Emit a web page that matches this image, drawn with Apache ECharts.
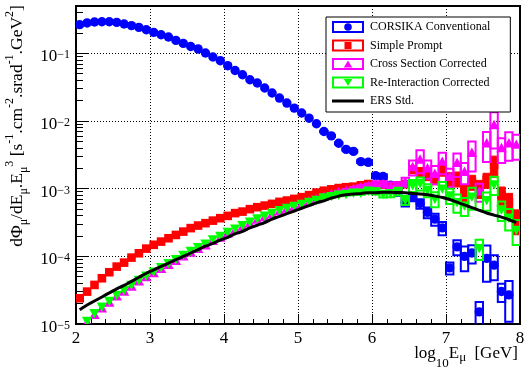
<!DOCTYPE html>
<html>
<head>
<meta charset="utf-8">
<script src="https://cdn.jsdelivr.net/npm/echarts@6/dist/echarts.min.js"></script>
<style>
html,body{margin:0;padding:0;background:#fff;}
#chart{width:524px;height:377px;}
</style>
</head>
<body>
<div id="chart"></div>
<script>
// ---- data (bin centres in log10 E [GeV], bin width 0.1) ----
const binWidth = 0.1;
const binCenters = [
  2.05,2.15,2.25,2.35,2.45,2.55,2.65,2.75,2.85,2.95,
  3.05,3.15,3.25,3.35,3.45,3.55,3.65,3.75,3.85,3.95,
  4.05,4.15,4.25,4.35,4.45,4.55,4.65,4.75,4.85,4.95,
  5.05,5.15,5.25,5.35,5.45,5.55,5.65,5.75,5.85,5.95,
  6.05,6.15,6.25,6.35,6.45,6.55,6.65,6.75,6.85,6.95,
  7.05,7.15,7.25,7.35,7.45,7.55,7.65,7.75,7.85,7.95
];
const conventional = [
  0.265,0.281,0.290,0.293,0.293,0.286,0.271,0.256,0.242,0.223,
  0.204,0.188,0.174,0.155,0.140,0.126,0.116,0.101,0.0881,0.0778,
  0.0656,0.0558,0.0482,0.0406,0.0364,0.0307,0.0259,0.0218,0.0184,0.0155,
  0.0131,0.0110,0.00910,0.00700,0.00603,0.00468,0.00380,0.00355,0.00251,0.00245,
  0.00155,0.00151,0.00112,0.000891,0.000631,0.000759,0.000603,0.000447,0.000355,0.000263,
  0.0000676,0.000138,0.000100,0.000112,0.0000151,0.0000933,0.0000741,0.0000302,0.0000269,null
];
const conventionalRelErr = [
  0,0,0,0,0,0,0,0,0,0, 0,0,0,0,0,0,0,0,0,0, 0,0,0,0,0,0,0,0,0,0,
  0,0,0,0.02,0.03,0.03,0.04,0.04,0.05,0.06,
  0.08,0.08,0.10,0.12,0.14,0.14,0.16,0.18,0.20,0.22,
  0.20,0.25,0.40,0.30,0.40,0.55,0.40,0.30,0.60,0
];
const simplePrompt = [
  2.40e-5,3.01e-5,3.78e-5,4.74e-5,5.82e-5,7.05e-5,8.07e-5,9.57e-5,1.11e-4,1.30e-4,
  1.48e-4,1.65e-4,1.85e-4,2.07e-4,2.32e-4,2.61e-4,2.85e-4,3.09e-4,3.37e-4,3.66e-4,
  3.96e-4,4.35e-4,4.58e-4,4.98e-4,5.32e-4,5.62e-4,5.96e-4,6.38e-4,6.67e-4,7.06e-4,
  7.48e-4,8.02e-4,8.75e-4,9.33e-4,9.77e-4,1.02e-3,1.05e-3,1.07e-3,1.12e-3,1.17e-3,
  1.10e-3,1.15e-3,1.05e-3,1.12e-3,1.17e-3,1.91e-3,1.78e-3,1.58e-3,1.41e-3,1.91e-3,
  1.41e-3,1.41e-3,8.71e-4,1.26e-3,1.02e-3,1.35e-3,2.24e-3,8.13e-4,6.31e-4,3.47e-4
];
const simplePromptRelErr = [
  0,0,0,0,0,0,0,0,0,0, 0,0,0,0,0,0,0,0,0,0, 0,0,0,0,0,0,0,0,0,0,
  0,0,0,0.03,0.03,0.04,0.04,0.05,0.05,0.06,
  0.07,0.08,0.09,0.10,0.12,0.13,0.15,0.17,0.19,0.20,
  0.22,0.25,0.28,0.25,0.30,0.25,0.35,0.30,0.35,0.40
];
const crossSectionCorrected = [
  null,1.05e-5,1.37e-5,1.71e-5,2.08e-5,2.56e-5,3.02e-5,3.59e-5,4.26e-5,4.92e-5,
  5.64e-5,6.56e-5,7.51e-5,8.61e-5,9.98e-5,1.14e-4,1.29e-4,1.46e-4,1.69e-4,1.90e-4,
  2.18e-4,2.45e-4,2.75e-4,3.10e-4,3.48e-4,3.83e-4,4.22e-4,4.65e-4,5.08e-4,5.50e-4,
  5.96e-4,6.45e-4,7.00e-4,7.70e-4,8.30e-4,8.90e-4,9.40e-4,1.00e-3,1.05e-3,1.10e-3,
  1.17e-3,1.17e-3,1.10e-3,1.10e-3,1.26e-3,2.09e-3,2.69e-3,2.00e-3,1.66e-3,2.51e-3,
  1.51e-3,2.40e-3,1.78e-3,3.39e-3,9.12e-4,4.68e-3,8.71e-3,3.98e-3,4.68e-3,4.47e-3
];
const crossSectionRelErr = [
  0,0,0,0,0,0,0,0,0,0, 0,0,0,0,0,0,0,0,0,0, 0,0,0,0,0,0,0,0,0,0,
  0,0,0,0.04,0.04,0.05,0.05,0.06,0.07,0.08,
  0.10,0.10,0.12,0.13,0.15,0.25,0.37,0.30,0.30,0.35,
  0.30,0.38,0.35,0.47,0.30,0.47,0.55,0.40,0.45,0.40
];
const reInteractionCorrected = [
  null,1.11e-5,1.44e-5,1.80e-5,2.19e-5,2.69e-5,3.18e-5,3.78e-5,4.48e-5,5.18e-5,
  5.94e-5,6.90e-5,7.91e-5,9.06e-5,1.05e-4,1.20e-4,1.36e-4,1.54e-4,1.78e-4,2.00e-4,
  2.29e-4,2.57e-4,2.88e-4,3.24e-4,3.63e-4,3.98e-4,4.37e-4,4.79e-4,5.19e-4,5.56e-4,
  5.96e-4,6.38e-4,6.82e-4,7.41e-4,7.76e-4,8.13e-4,8.32e-4,8.71e-4,8.71e-4,9.33e-4,
  9.12e-4,8.32e-4,8.51e-4,9.12e-4,6.76e-4,1.12e-3,1.20e-3,9.55e-4,7.08e-4,1.00e-3,
  7.94e-4,6.31e-4,5.62e-4,7.59e-4,1.32e-4,6.76e-4,1.15e-3,4.90e-4,3.72e-4,2.45e-4
];
const reInteractionRelErr = [
  0,0,0,0,0,0,0,0,0,0, 0,0,0,0,0,0,0,0,0,0, 0,0,0,0,0,0,0,0,0,0,
  0,0,0,0.04,0.04,0.05,0.05,0.06,0.07,0.08,
  0.10,0.11,0.12,0.13,0.15,0.20,0.22,0.22,0.25,0.25,
  0.25,0.30,0.30,0.36,0.33,0.30,0.30,0.32,0.35,0.40
];
const ersStd = [
  1.62e-5,1.91e-5,2.19e-5,2.51e-5,2.88e-5,3.31e-5,3.72e-5,4.27e-5,4.90e-5,5.62e-5,
  6.31e-5,7.08e-5,7.94e-5,8.91e-5,1.00e-4,1.12e-4,1.26e-4,1.41e-4,1.55e-4,1.74e-4,
  1.91e-4,2.14e-4,2.34e-4,2.63e-4,2.88e-4,3.16e-4,3.55e-4,3.89e-4,4.27e-4,4.68e-4,
  5.13e-4,5.62e-4,6.17e-4,6.61e-4,7.24e-4,7.76e-4,8.13e-4,8.32e-4,8.51e-4,8.71e-4,
  8.71e-4,8.81e-4,8.81e-4,8.75e-4,8.71e-4,8.51e-4,8.32e-4,8.13e-4,7.76e-4,7.41e-4,
  6.92e-4,6.31e-4,5.75e-4,5.25e-4,4.79e-4,4.37e-4,4.07e-4,3.80e-4,3.47e-4,3.16e-4
];
const seriesNames = ['CORSIKA Conventional','Simple Prompt','Cross Section Corrected','Re-Interaction Corrected','ERS Std.'];
const xTicks = [2,3,4,5,6,7,8];
const yMajorTicks = [1e-5,1e-4,1e-3,1e-2,1e-1];
const yMin = 1e-5, yMax = 0.5;

// minor ticks 2..9 x 10^n
const yMinorTicks = [];
for (let e = -5; e <= -1; e++) for (let k = 2; k <= 9; k++) {
  const v = k * Math.pow(10, e);
  if (v < yMax) yMinorTicks.push(v);
}

function buildData(vals, errs) {
  const out = [];
  for (let i = 0; i < binCenters.length; i++) {
    if (vals[i] == null) continue;
    out.push([binCenters[i], vals[i], errs[i]]);
  }
  return out;
}

const FONT = 'Liberation Serif';
const MS = 4.7; // marker half size

function markerRender(shape, filledBox) {
  return function (params, api) {
    const x = api.value(0), y = api.value(1), r = api.value(2);
    const color = api.visual('color');
    const c = api.coord([x, y]);
    const children = [];
    if (r > 0) {
      const hi = y * (1 + r);
      const lo = Math.max(y * (1 - r), 1e-8);
      const p1 = api.coord([x - binWidth / 2, hi]);
      const p2 = api.coord([x + binWidth / 2, lo]);
      children.push({
        type: 'rect',
        shape: {x: p1[0], y: p1[1], width: p2[0] - p1[0], height: p2[1] - p1[1]},
        style: filledBox ? {fill: color, stroke: color, lineWidth: 1}
                         : {fill: 'none', stroke: color, lineWidth: 2}
      });
    }
    let m;
    if (shape === 'circle') {
      m = {type: 'circle', shape: {cx: c[0], cy: c[1], r: MS}, style: {fill: color}};
    } else if (shape === 'square') {
      m = {type: 'rect', shape: {x: c[0] - MS + 0.4, y: c[1] - MS + 0.4, width: 2 * MS - 0.8, height: 2 * MS - 0.8}, style: {fill: color}};
    } else if (shape === 'up') {
      m = {type: 'polygon', shape: {points: [[c[0], c[1] - MS - 0.5], [c[0] + MS + 0.5, c[1] + MS - 0.5], [c[0] - MS - 0.5, c[1] + MS - 0.5]]}, style: {fill: color}};
    } else {
      m = {type: 'polygon', shape: {points: [[c[0] - MS - 0.5, c[1] - MS + 0.5], [c[0] + MS + 0.5, c[1] - MS + 0.5], [c[0], c[1] + MS + 0.5]]}, style: {fill: color}};
    }
    children.push(m);
    return {type: 'group', children: children};
  };
}

const RING = 'M0,0L32,0L32,12L0,12Z M2,2L2,10L30,10L30,2Z ';
const ICONS = {
  circle: 'path://' + RING + 'M12.2,6A3.8,3.8,0,1,0,19.8,6A3.8,3.8,0,1,0,12.2,6Z',
  square: 'path://' + RING + 'M12.5,2.6L19.5,2.6L19.5,9.4L12.5,9.4Z',
  up: 'path://' + RING + 'M16,2.4L20.2,9.4L11.8,9.4Z',
  down: 'path://' + RING + 'M11.8,2.6L20.2,2.6L16,9.6Z',
  line: 'path://M0,0L0,0 M0,4.5L32,4.5L32,7.5L0,7.5Z M32,12L32,12'
};
const COLORS = ['#0000ff', '#ff0000', '#ff00ff', '#00ff00', '#000000'];

const chart = echarts.init(document.getElementById('chart'), null, {renderer: 'canvas'});

const option = {
  animation: false,
  backgroundColor: '#fff',
  grid: {left: 76, right: 4, top: 6, bottom: 53, containLabel: false, outerBoundsMode: 'none',
    show: true, borderColor: '#000', borderWidth: 2, backgroundColor: 'transparent'},
  legend: {
    orient: 'vertical', left: 326, top: 17,
    itemWidth: 32, itemHeight: 12, itemGap: 6.5,
    padding: [4, 20, 5, 6],
    backgroundColor: '#fff', borderColor: '#000', borderWidth: 1,
    selectedMode: false,
    textStyle: {fontFamily: FONT, fontSize: 12, color: '#000', padding: [0, 0, 0, 1]},
    data: [
      {name: seriesNames[0], icon: ICONS.circle, itemStyle: {color: COLORS[0], borderWidth: 0}},
      {name: seriesNames[1], icon: ICONS.square, itemStyle: {color: COLORS[1], borderWidth: 0}},
      {name: seriesNames[2], icon: ICONS.up, itemStyle: {color: COLORS[2], borderWidth: 0}},
      {name: seriesNames[3], icon: ICONS.down, itemStyle: {color: COLORS[3], borderWidth: 0}},
      {name: seriesNames[4], icon: ICONS.line, itemStyle: {color: COLORS[4], borderWidth: 0}}
    ]
  },
  xAxis: {
    type: 'value', min: 2, max: 8, interval: 1,
    axisLine: {show: true, onZero: false, lineStyle: {color: '#000', width: 2}},
    axisTick: {show: true, inside: true, length: 10, lineStyle: {color: '#000', width: 1}},
    minorTick: {show: true, splitNumber: 5, length: 5, lineStyle: {color: '#000', width: 1}},
    splitLine: {show: true, lineStyle: {color: '#000', type: [1, 2], width: 1}},
    axisLabel: {fontFamily: FONT, fontSize: 17, color: '#000', margin: 6, showMinLabel: true, showMaxLabel: true,
      customValues: xTicks},
    name: '{m|log}{sub|10}{m|E}{mu|μ}{m| [GeV]}',
    nameLocation: 'middle', nameGap: 21, nameMoveOverlap: false,
    nameTextStyle: {
      padding: [0, 0, 0, 336],
      rich: {
        m: {fontFamily: FONT, fontSize: 17, color: '#000', lineHeight: 17, verticalAlign: 'top'},
        sub: {fontFamily: FONT, fontSize: 13, color: '#000', lineHeight: 13, verticalAlign: 'bottom'},
        mu: {fontFamily: FONT, fontSize: 13, color: '#000', lineHeight: 25, verticalAlign: 'middle', padding: [0, 4, 0, 0]}
      }
    }
  },
  yAxis: [
    {
      type: 'log', logBase: 10, min: yMin, max: yMax,
      axisLine: {show: true, lineStyle: {color: '#000', width: 2}},
      axisTick: {show: true, inside: true, length: 13, lineStyle: {color: '#000', width: 1}, customValues: yMajorTicks},
      splitLine: {show: true, lineStyle: {color: '#000', type: [1, 2], width: 1}},
      axisLabel: {
        customValues: yMajorTicks, margin: 6, padding: [8, 0, 0, 0],
        formatter: function (v) {
          const e = Math.round(Math.log10(v));
          return '{b|10}{s|' + String(e).replace('-', '\u2212') + '}';
        },
        rich: {
          b: {fontFamily: FONT, fontSize: 17, color: '#000', lineHeight: 16, verticalAlign: 'bottom'},
          s: {fontFamily: FONT, fontSize: 12, color: '#000', lineHeight: 6, verticalAlign: 'top'}
        }
      },
      name: '{m|dΦ}{d|μ}{m|/dE}{d|μ}{m|.E}{d|μ}{u|3}{m| [s}{u|-1}{m|.cm}{u|-2}{m|.srad}{u|-1}{m|.GeV}{u|2}{m|]}',
      nameLocation: 'middle', nameRotate: 90, nameGap: 46, nameMoveOverlap: false,
      nameTextStyle: {
        padding: [0, 0, 0, 78],
        rich: {
          m: {fontFamily: FONT, fontSize: 17.5, color: '#000', lineHeight: 26, verticalAlign: 'middle'},
          d: {fontFamily: FONT, fontSize: 12, color: '#000', lineHeight: 12, verticalAlign: 'bottom'},
          u: {fontFamily: FONT, fontSize: 12, color: '#000', lineHeight: 12, verticalAlign: 'top'}
        }
      }
    },
    {
      type: 'log', logBase: 10, min: yMin, max: yMax, position: 'left',
      axisLine: {show: false},
      axisTick: {show: true, inside: true, length: 7, lineStyle: {color: '#000', width: 1}, customValues: yMinorTicks},
      axisLabel: {show: false},
      splitLine: {show: false}
    }
  ],
  series: [
    {name: seriesNames[0], type: 'custom', clip: true, itemStyle: {color: COLORS[0]},
      renderItem: markerRender('circle', false), data: buildData(conventional, conventionalRelErr)},
    {name: seriesNames[1], type: 'custom', clip: true, itemStyle: {color: COLORS[1]},
      renderItem: markerRender('square', true), data: buildData(simplePrompt, simplePromptRelErr)},
    {name: seriesNames[2], type: 'custom', clip: true, itemStyle: {color: COLORS[2]},
      renderItem: markerRender('up', false), data: buildData(crossSectionCorrected, crossSectionRelErr)},
    {name: seriesNames[3], type: 'custom', clip: true, itemStyle: {color: COLORS[3]},
      renderItem: markerRender('down', false), data: buildData(reInteractionCorrected, reInteractionRelErr)},
    {name: seriesNames[4], type: 'line', smooth: true, symbol: 'none', showSymbol: false,
      itemStyle: {color: COLORS[4]}, lineStyle: {color: COLORS[4], width: 3},
      data: binCenters.map((x, i) => [x, ersStd[i]])}
  ]
};
chart.setOption(option);
</script>
</body>
</html>
